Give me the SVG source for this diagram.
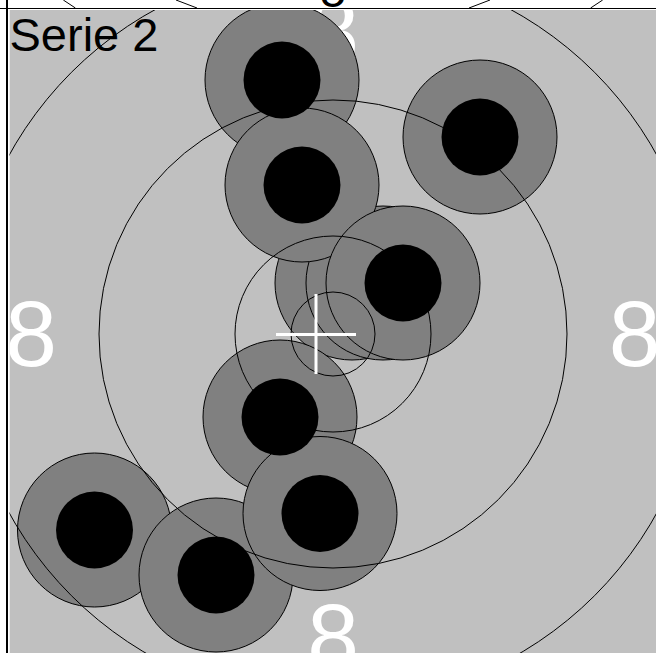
<svg xmlns="http://www.w3.org/2000/svg" width="656" height="653" viewBox="0 0 656 653">
<defs>
<clipPath id="area"><rect x="9.5" y="10" width="646.5" height="643"/></clipPath>
<style>
.shot-out{fill:#808080;stroke:#000;stroke-width:1}
.shot-in{fill:#000}
.ring{fill:none;stroke:#000;stroke-width:1}
.lbl{font-family:"Liberation Sans",Arial,sans-serif;font-size:93px;fill:#fff;text-anchor:middle}
.cross{stroke:#fff;stroke-width:3}
.prev{stroke:#000;stroke-width:1;fill:none}
</style>
</defs>
<rect width="656" height="653" fill="#fff"/>
<g id="previous-target">
<line class="prev" x1="63.3" y1="0" x2="75.4" y2="8"/>
<line class="prev" x1="176" y1="0" x2="197" y2="8"/>
<line class="prev" x1="490" y1="0" x2="469" y2="8"/>
<line class="prev" x1="602.7" y1="0" x2="590.6" y2="8"/>
<text x="333" y="7" font-family="Liberation Sans, Arial, sans-serif" font-size="47" fill="#000" text-anchor="middle">5</text>
</g>
<rect x="0" y="8" width="656" height="1" fill="#000"/>
<rect x="6" y="0" width="2" height="653" fill="#000"/>
<g id="target" clip-path="url(#area)">
<rect x="9.5" y="10" width="646.5" height="643" fill="#c0c0c0"/>
<g id="labels">
<text class="lbl" x="31" y="366">8</text>
<text class="lbl" x="634.5" y="366">8</text>
<text class="lbl" x="333" y="669">8</text>
<text class="lbl" x="333" y="64">8</text>
</g>
<g id="shot-outer">
<circle id="shot1-o" class="shot-out" cx="282" cy="80" r="77"/>
<circle id="shot2-o" class="shot-out" cx="480" cy="137" r="77"/>
<circle id="shot3-o" class="shot-out" cx="352" cy="283" r="77"/>
<circle id="shot4-o" class="shot-out" cx="383" cy="283" r="77"/>
<circle id="shot5-o" class="shot-out" cx="302" cy="185" r="77"/>
<circle id="shot6-o" class="shot-out" cx="403" cy="283" r="77"/>
<circle id="shot7-o" class="shot-out" cx="280" cy="417" r="77"/>
<circle id="shot8-o" class="shot-out" cx="94.5" cy="530" r="77"/>
<circle id="shot9-o" class="shot-out" cx="216" cy="575" r="77"/>
<circle id="shot10-o" class="shot-out" cx="320" cy="513.5" r="77"/>
</g>
<g id="shot-inner">
<circle id="shot1-i" class="shot-in" cx="282" cy="80" r="38.5"/>
<circle id="shot2-i" class="shot-in" cx="480" cy="137" r="38.5"/>
<circle id="shot5-i" class="shot-in" cx="302" cy="185" r="38.5"/>
<circle id="shot6-i" class="shot-in" cx="403" cy="283" r="38.5"/>
<circle id="shot7-i" class="shot-in" cx="280" cy="417" r="38.5"/>
<circle id="shot8-i" class="shot-in" cx="94.5" cy="530" r="38.5"/>
<circle id="shot9-i" class="shot-in" cx="216" cy="575" r="38.5"/>
<circle id="shot10-i" class="shot-in" cx="320" cy="513.5" r="38.5"/>
</g>
<g id="rings">
<circle class="ring" cx="333" cy="334" r="42"/>
<circle class="ring" cx="333" cy="334" r="98"/>
<circle class="ring" cx="333" cy="334" r="234"/>
<circle class="ring" cx="333" cy="334" r="370"/>
</g>
<g id="crosshair">
<line class="cross" x1="276" y1="334.5" x2="356" y2="334.5"/>
<line class="cross" x1="316" y1="294" x2="316" y2="374"/>
</g>
</g>
<text x="9.5" y="51" font-family="Liberation Sans, Arial, sans-serif" font-size="47" fill="#000">Serie 2</text>
</svg>
